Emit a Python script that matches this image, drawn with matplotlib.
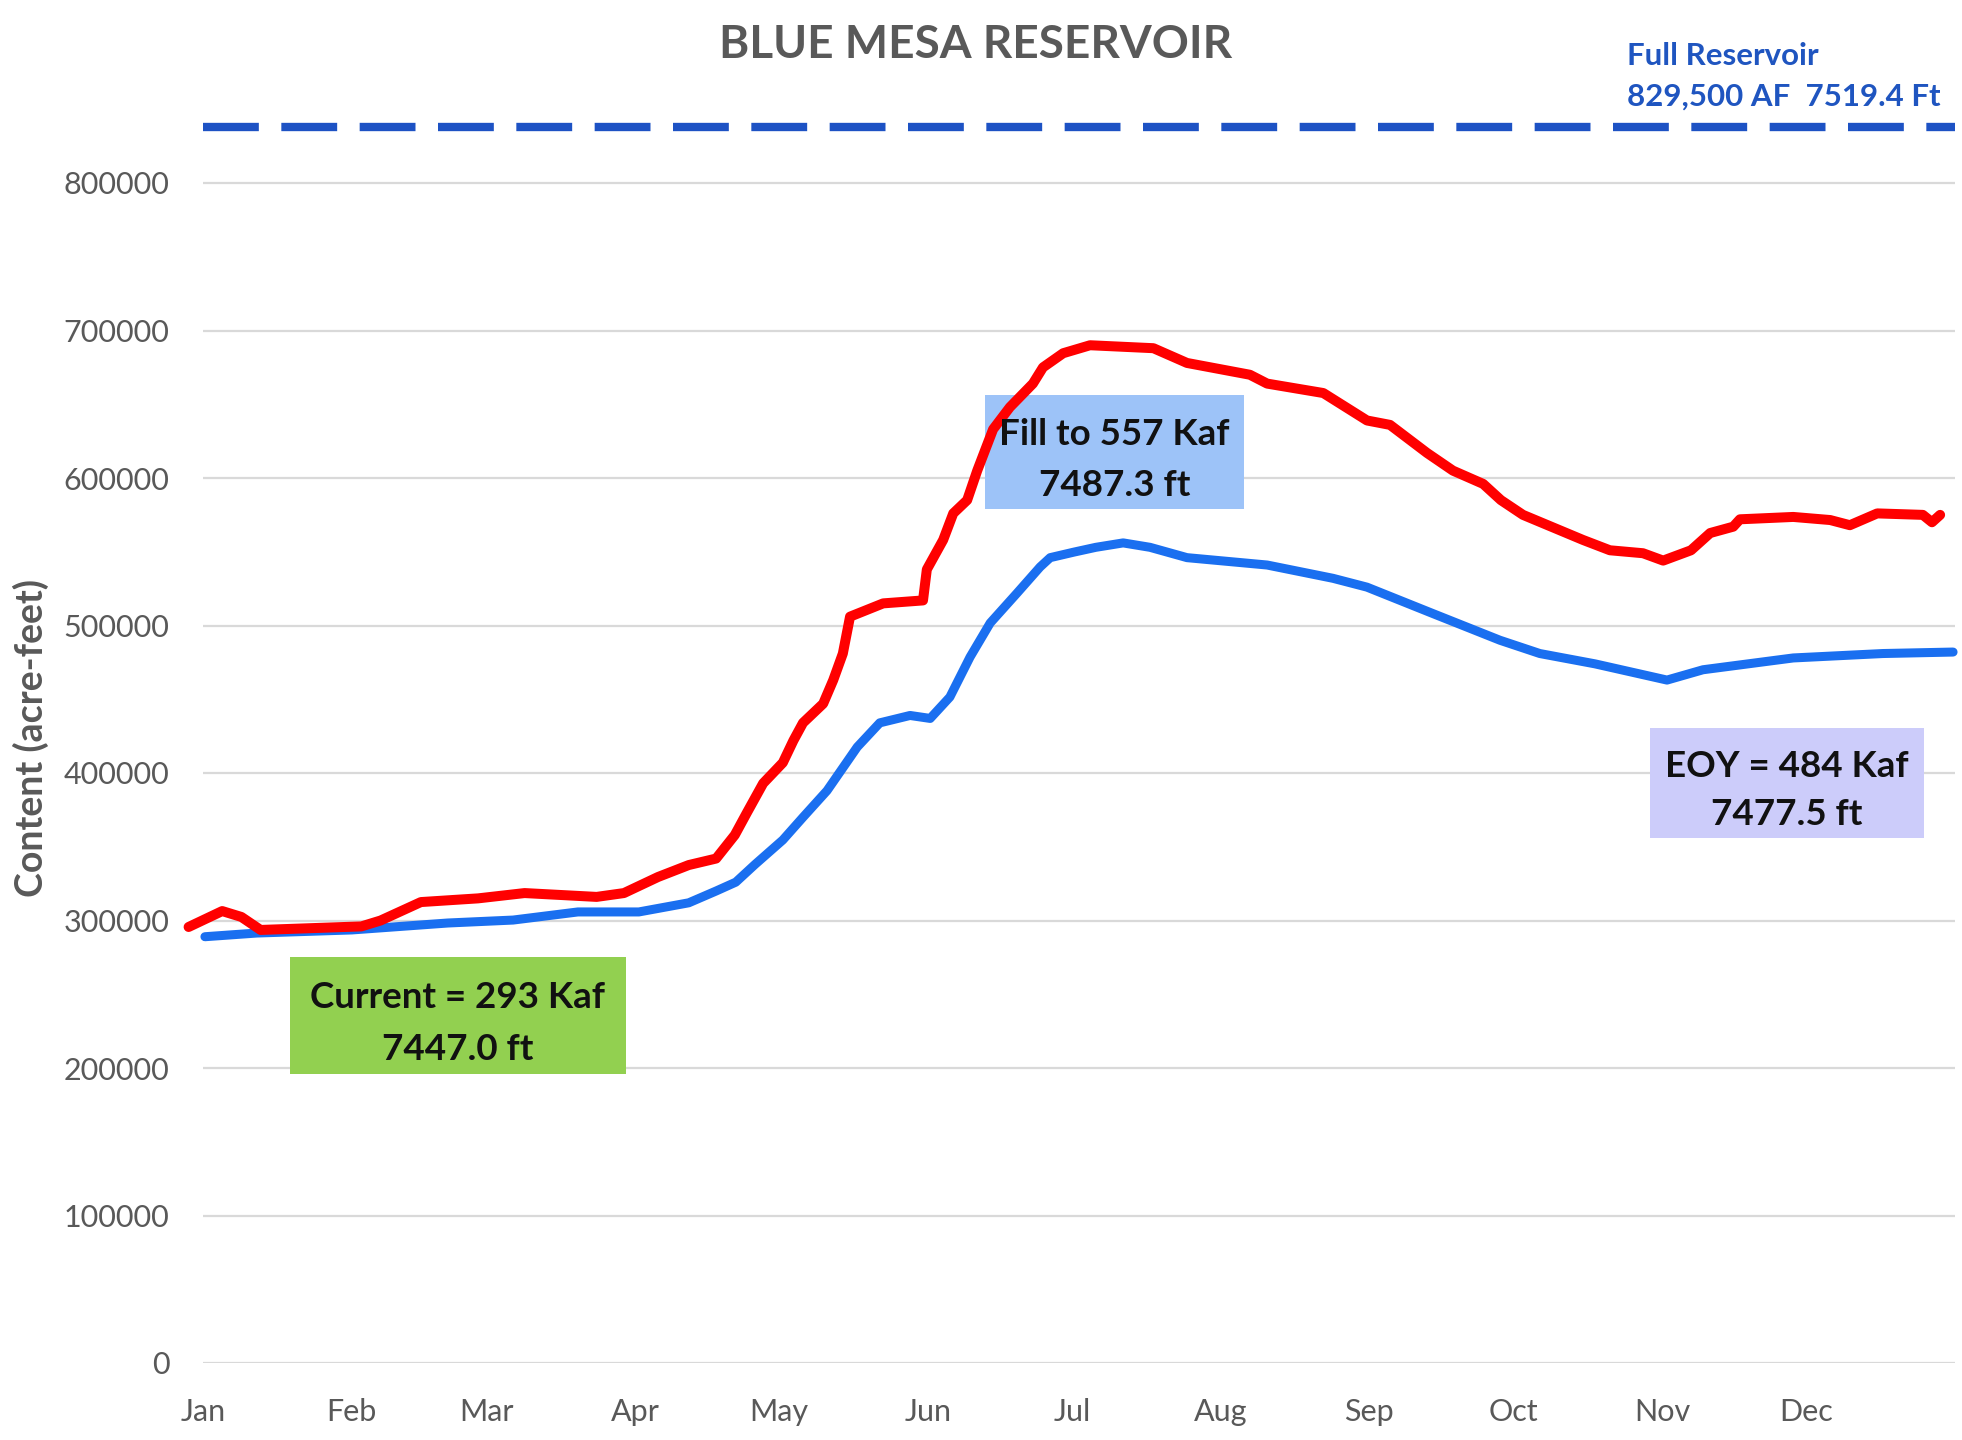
import matplotlib
matplotlib.use("Agg")
import matplotlib.pyplot as plt
from matplotlib.patches import Rectangle

plt.rcParams['font.family'] = ['Lato', 'DejaVu Sans']

# day of year (0 = Jan 1) and contents in acre-feet
red_days = [-3, 4, 8, 12, 33, 37, 45.4, 57.3, 67, 82, 87.7, 94.8, 101.2, 106.9, 110.8,
            113.3, 116.7, 120.8, 123, 125, 129.2, 131.3, 133.3, 134.8, 141.7, 150, 150.8,
            154.2, 156.3, 159.2, 161.3, 164.6, 168.1, 172.9, 175, 179.2, 184.8, 198, 205,
            218.1, 221.7, 233.4, 242.5, 247.3, 255, 260.4, 266.7, 270.4, 275, 287.5, 293.1,
            300, 304.2, 310, 314, 318.8, 320.2, 331.3, 339, 343.1, 348.8, 358.3, 360.2, 361.9]
red_af = [295600, 306400, 302400, 293600, 296000, 300000, 312500, 315000, 318600, 316000,
          318600, 329500, 337600, 342000, 358000, 373000, 393000, 407000, 422000, 434000,
          447000, 463000, 481000, 506000, 515000, 517000, 538000, 558000, 576000, 585000,
          605000, 633000, 648000, 664000, 675000, 684600, 690000, 688000, 678000, 670000,
          664000, 657600, 639000, 636000, 617000, 605000, 596000, 585000, 575000, 558000,
          551000, 549000, 544000, 551000, 562700, 567000, 572000, 573600, 571500, 568000,
          576000, 575000, 570000, 575000]

blue_days = [0.4, 11.2, 31, 51, 64.6, 78.1, 90.8, 101.2, 106.9, 111, 115, 120.8, 125, 130,
             136.3, 141, 147.3, 151.5, 155.6, 159.8, 164, 169.6, 174.4, 176.5, 181.5, 186,
             191.7, 197.3, 205, 221.7, 235.4, 242.5, 256.3, 270.2, 278.5, 290, 305, 312.5,
             331.3, 350, 364.6]
blue_af = [289000, 291500, 293600, 298300, 300300, 305800, 305800, 312000, 320000, 326000,
           338000, 354600, 370000, 388000, 417600, 434000, 439000, 437000, 451500, 478600,
           501700, 522000, 539700, 546000, 549800, 553000, 556000, 553000, 546000, 541000,
           532000, 526000, 508000, 490000, 481000, 474000, 463000, 470000, 478000, 481000,
           482000]

full_level = 838000  # where the dashed "full reservoir" line sits on the chart

month_starts = [0, 31, 59, 90, 120, 151, 181, 212, 243, 273, 304, 334]
month_labels = ['Jan', 'Feb', 'Mar', 'Apr', 'May', 'Jun', 'Jul', 'Aug', 'Sep', 'Oct', 'Nov', 'Dec']
y_ticks = [0, 100000, 200000, 300000, 400000, 500000, 600000, 700000, 800000]

W, H = 1962, 1440
gray = '#595959'


def fx(px):
    return px / W


def fy(py):
    return 1 - py / H


fig = plt.figure(figsize=(W / 100, H / 100), dpi=100)
ax = fig.add_axes([fx(203), fy(1363), fx(1955) - fx(203), fy(94.5) - fy(1363)])

ax.set_xlim(0, 365)
ax.set_ylim(0, 860000)
ax.set_yticks(y_ticks)
ax.set_yticklabels([str(v) for v in y_ticks])
ax.set_xticks(month_starts)
ax.set_xticklabels(month_labels)
ax.tick_params(axis='both', length=0, labelsize=22, labelcolor=gray)
ax.tick_params(axis='y', pad=24)
ax.tick_params(axis='x', pad=25)
ax.grid(axis='y', color='#d9d9d9', lw=1.6)
ax.set_axisbelow(True)
for s in ax.spines.values():
    s.set_visible(False)

ax.plot([0, 365], [full_level, full_level], color='#1d52c4', lw=6,
        linestyle=(0, (6.7, 2.7)), clip_on=False)
ax.plot(blue_days, blue_af, color='#1a6ff0', lw=6.5, solid_capstyle='round',
        solid_joinstyle='round', clip_on=False, zorder=3)
ax.plot(red_days, red_af, color='#ff0000', lw=7.2, solid_capstyle='round',
        solid_joinstyle='round', clip_on=False, zorder=4)

fig.text(fx(976), fy(45), 'BLUE MESA RESERVOIR', ha='center', va='center',
         fontsize=33, fontweight='bold', color=gray)
fig.text(fx(31), fy(738), 'Content (acre-feet)', rotation=90, ha='center', va='center',
         fontsize=27, fontweight='bold', color=gray)
fig.text(fx(1627), fy(65), 'Full Reservoir', ha='left', va='baseline',
         fontsize=22.5, fontweight='bold', color='#1f55c0')
fig.text(fx(1627), fy(106), '829,500 AF  7519.4 Ft', ha='left', va='baseline',
         fontsize=22.5, fontweight='bold', color='#1f55c0')

# annotation boxes: (left, top, right, bottom) in pixels, colour, two lines of text
boxes = [
    ((290, 957, 626, 1074), '#92d050', 'Current = 293 Kaf', '7447.0 ft'),
    ((985, 395, 1244, 509), '#9dc3f8', 'Fill to 557 Kaf', '7487.3 ft'),
    ((1650, 728, 1924, 838), '#ccccfa', 'EOY = 484 Kaf', '7477.5 ft'),
]
for (l, t, r, b), col, line1, line2 in boxes:
    # box sits under the lines, text on top
    ax.add_patch(Rectangle((fx(l), fy(b)), fx(r) - fx(l), fy(t) - fy(b),
                           transform=fig.transFigure, facecolor=col,
                           edgecolor='none', zorder=2, clip_on=False))
    cx = (l + r) / 2
    fig.text(fx(cx), fy(t + (b - t) * 0.35), line1, ha='center', va='center',
             fontsize=26.5, fontweight='bold', color='#111111', zorder=5)
    fig.text(fx(cx), fy(t + (b - t) * 0.79), line2, ha='center', va='center',
             fontsize=26.5, fontweight='bold', color='#111111', zorder=5)

fig.savefig('out.png', dpi=100)
